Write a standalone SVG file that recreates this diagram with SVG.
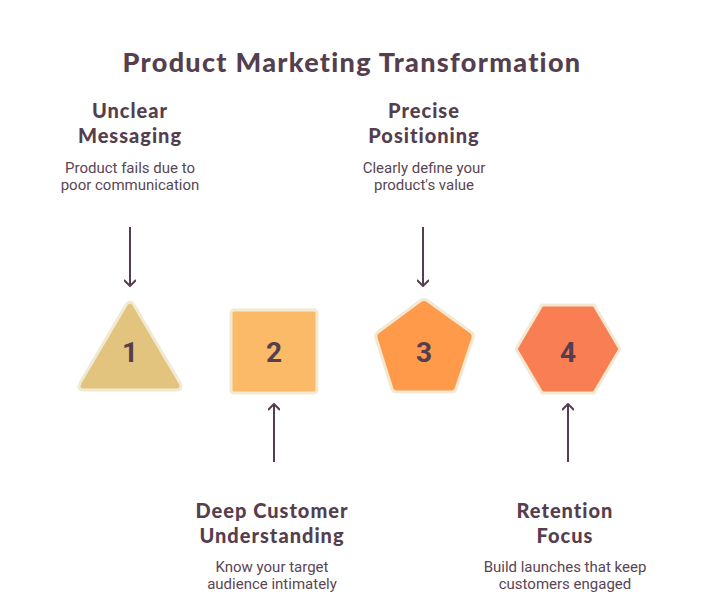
<svg xmlns="http://www.w3.org/2000/svg" width="706" height="601" viewBox="0 0 706 601">
<style>
.title{font-family:"Lato","Noto Sans",sans-serif;font-weight:900;font-size:27px;fill:#553E4E;text-anchor:middle;letter-spacing:1.3px}
.head{font-family:"Lato","Noto Sans",sans-serif;font-weight:900;font-size:20px;fill:#553E4E;text-anchor:middle;letter-spacing:1px}
.desc{font-family:Roboto,"Liberation Sans",sans-serif;font-size:15px;fill:#5A4555;text-anchor:middle}
.num{font-family:Roboto,"Liberation Sans",sans-serif;font-weight:bold;font-size:28px;fill:#553E4E;text-anchor:middle}
.shape{stroke:#F1E9D2;stroke-width:3;stroke-linejoin:round}
.conn{stroke:#553E4E;stroke-width:2;fill:none}
</style>
<defs>
<marker id="arr" viewBox="0 0 12 12" refX="11" refY="6" markerWidth="12" markerHeight="12" markerUnits="userSpaceOnUse" orient="auto">
<path d="M5,0 L11,6 L5,12" fill="none" stroke="#553E4E" stroke-width="2"/>
</marker>
</defs>
<rect width="706" height="601" fill="#FFFFFF"/>
<text class="title" x="352" y="72">Product Marketing Transformation</text>
<g id="connectors">
<line class="conn" x1="130" y1="227" x2="130" y2="286" marker-end="url(#arr)"/>
<line class="conn" x1="274" y1="462" x2="274" y2="404" marker-end="url(#arr)"/>
<line class="conn" x1="423" y1="227" x2="423" y2="286" marker-end="url(#arr)"/>
<line class="conn" x1="568" y1="462" x2="568" y2="404" marker-end="url(#arr)"/>
</g>
<g id="node1">
<path class="shape" fill="#E2C47F" d="M126,305 Q130,299 134,305 L180,383 Q183,390 176,390 L84,390 Q77,390 80,383 Z"/>
<text class="num" x="130" y="362">1</text>
<text class="head" x="130" y="118">Unclear</text>
<text class="head" x="130" y="143">Messaging</text>
<text class="desc" x="130" y="173">Product fails due to</text>
<text class="desc" x="130" y="190">poor communication</text>
</g>
<g id="node2">
<rect class="shape" fill="#FBBA68" x="231" y="310" width="86" height="83" rx="3"/>
<text class="num" x="274" y="362">2</text>
<text class="head" x="272" y="518">Deep Customer</text>
<text class="head" x="272" y="543">Understanding</text>
<text class="desc" x="272" y="572">Know your target</text>
<text class="desc" x="272" y="589">audience intimately</text>
</g>
<g id="node3">
<path class="shape" fill="#FF9A4A" d="M420,301 Q424,298 428,301 L471,332 Q474,334 473,338 L456,389 Q455,392 451,392 L397,392 Q393,392 392,389 L376,338 Q375,334 378,332 Z"/>
<text class="num" x="424" y="362">3</text>
<text class="head" x="424" y="118">Precise</text>
<text class="head" x="424" y="143">Positioning</text>
<text class="desc" x="424" y="173">Clearly define your</text>
<text class="desc" x="424" y="190">product's value</text>
</g>
<g id="node4">
<path class="shape" fill="#FA7E54" d="M542,305 L594,305 L620,349 L594,393 L542,393 L516,349 Z"/>
<text class="num" x="568" y="362">4</text>
<text class="head" x="565" y="518">Retention</text>
<text class="head" x="565" y="543">Focus</text>
<text class="desc" x="565" y="572">Build launches that keep</text>
<text class="desc" x="565" y="589">customers engaged</text>
</g>
</svg>
